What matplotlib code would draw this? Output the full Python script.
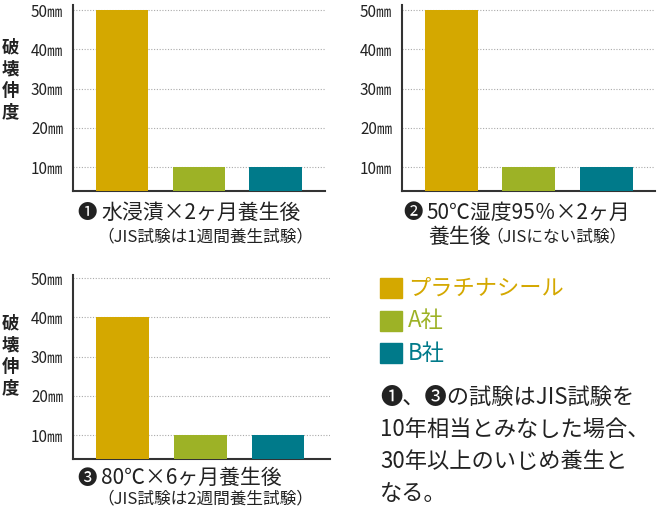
import matplotlib.pyplot as plt

plt.rcParams['font.family'] = ['Noto Sans CJK JP', 'DejaVu Sans']

W, H = 660, 532

categories = ["プラチナシール", "A社", "B社"]
colors = ["#D4A800", "#9DB226", "#007A8A"]
test1 = [50, 10, 10]
test2 = [50, 10, 10]
test3 = [40, 10, 10]
yticks = [10, 20, 30, 40, 50]
ytick_labels = [str(v) + "㎜" for v in yticks]
ylabel = "破壊伸度"

note_lines = ["❶、❸の試験はJIS試験を",
              "10年相当とみなした場合、",
              "30年以上のいじめ養生と",
              "なる。"]

TEXT = "#222222"


def px_axes(fig, x0, y0, x1, y1):
    # pixel box (top-left origin) -> figure fraction
    return fig.add_axes([x0 / W, 1 - y1 / H, (x1 - x0) / W, (y1 - y0) / H])


def bar_panel(ax, values, ylim, xlim):
    ax.bar(range(len(values)), values, width=0.68, color=colors, zorder=3)
    ax.set_xlim(*xlim)
    ax.set_ylim(*ylim)
    ax.set_yticks(yticks)
    ax.set_yticklabels(ytick_labels, fontsize=11, color=TEXT)
    ax.set_xticks([])
    ax.tick_params(axis="y", length=0, pad=7)
    for v in yticks:
        ax.axhline(v, color="#aaaaaa", lw=0.8, ls=(0, (1, 1.5)), zorder=1)
    for s in ["top", "right"]:
        ax.spines[s].set_visible(False)
    for s in ["left", "bottom"]:
        ax.spines[s].set_color("#333333")
        ax.spines[s].set_linewidth(1.5)


def ftext(fig, x, y, s, **kw):
    fig.text(x / W, 1 - y / H, s, va="center", **kw)


fig = plt.figure(figsize=(W / 100, H / 100), dpi=100)

ax1 = px_axes(fig, 73, 5, 325, 191)
bar_panel(ax1, test1, (3.9, 51.3), (-0.638, 2.645))
ax2 = px_axes(fig, 402, 5, 655, 191)
bar_panel(ax2, test2, (3.9, 51.3), (-0.634, 2.624))
ax3 = px_axes(fig, 73, 275, 330, 459)
bar_panel(ax3, test3, (3.9, 50.8), (-0.637, 2.67))

# vertical y labels
for yc in [80, 356]:
    ftext(fig, 10, yc, "\n".join(ylabel), ha="center", fontsize=12.5,
          fontweight="bold", color=TEXT, linespacing=1.25)

# captions
ftext(fig, 77, 213, "❶", ha="left", fontsize=14, color=TEXT)
ftext(fig, 101, 213, "水浸漬×2ヶ月養生後", ha="left", fontsize=15, color=TEXT)
ftext(fig, 97, 237, "（JIS試験は1週間養生試験）", ha="left", fontsize=12, color=TEXT)

ftext(fig, 403, 213, "❷", ha="left", fontsize=14, color=TEXT)
ftext(fig, 426, 213, "50℃湿度95％×2ヶ月", ha="left", fontsize=15, color=TEXT)
ftext(fig, 428, 237, "養生後", ha="left", fontsize=15, color=TEXT)
ftext(fig, 486, 237, "（JISにない試験）", ha="left", fontsize=12, color=TEXT)

ftext(fig, 77, 478, "❸", ha="left", fontsize=14, color=TEXT)
ftext(fig, 101, 478, "80℃×6ヶ月養生後", ha="left", fontsize=15, color=TEXT)
ftext(fig, 97, 499, "（JIS試験は2週間養生試験）", ha="left", fontsize=12, color=TEXT)

# legend
for i, (name, c) in enumerate(zip(categories, colors)):
    yc = 288 + i * 32.5
    fig.patches.append(plt.Rectangle((380 / W, 1 - (yc + 10) / H), 22 / W, 20 / H,
                                     transform=fig.transFigure, color=c))
    ftext(fig, 408, yc, name, ha="left", fontsize=16, color=c)

# note
for i, line in enumerate(note_lines):
    ftext(fig, 380, 397 + i * 32, line, ha="left", fontsize=16, color=TEXT)

fig.savefig("out.png", dpi=100)
